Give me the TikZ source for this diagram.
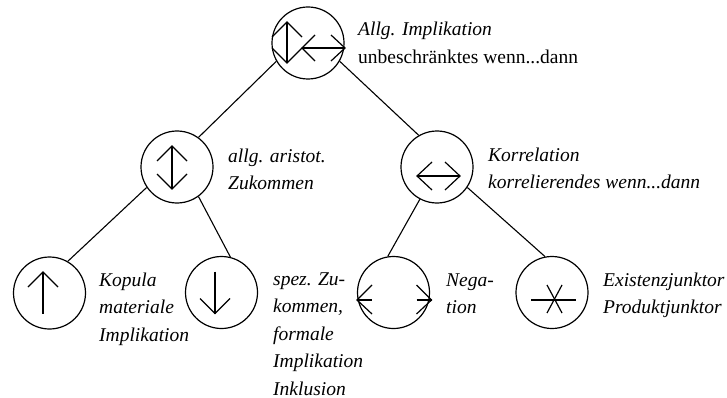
\documentclass[tikz,border=0pt]{standalone}
\usepackage{fontspec}
\setmainfont{Liberation Serif}
\tikzset{
    junktor/.style={draw, circle, minimum size=72pt, inner sep=0pt, line width=1.2pt},
    sym/.style={line width=1.2pt},
    erkl/.style={anchor=base west, align=left, inner sep=0pt, font=\fontsize{19.5}{27.5}\selectfont\itshape},
    kante/.style={line width=1.1pt}
}
\begin{document}
\begin{tikzpicture}[x=1pt,y=-1pt]
        \useasboundingbox (0,0) rectangle (727,398);

        % Kreise
        \node[junktor] (allg) at (308,43) {};
        \node[junktor] (arist) at (177,167) {};
        \node[junktor] (korr) at (437,167) {};
        \node[junktor] (kopula) at (49.5,293) {};
        \node[junktor] (spez) at (221.5,292.5) {};
        \node[junktor] (neg) at (393.5,292.5) {};
        \node[junktor] (exist) at (552,292.5) {};

        % Zeichen in den Kreisen
        \begin{scope}[shift={(allg)}, sym]
            \draw (-21,-21) -- (-21,20);
            \draw (-36,-6) -- (-21,-21) -- (-6,-6);
            \draw (-36,5) -- (-21,20) -- (-6,5);
            \draw (-6,5) -- (37,5);
            \draw (7,-8) -- (-6,5) -- (7,18);
            \draw (23,-8) -- (37,5) -- (23,18);
        \end{scope}
        \begin{scope}[shift={(arist)}, sym]
            \draw (-5,-21) -- (-5,22);
            \draw (-20,-6) -- (-5,-21) -- (10,-6);
            \draw (-20,7) -- (-5,22) -- (10,7);
        \end{scope}
        \begin{scope}[shift={(korr)}, sym]
            \draw (-20,9) -- (23,9);
            \draw (-5,-5) -- (-20,9) -- (-5,23);
            \draw (8,-5) -- (23,9) -- (8,23);
        \end{scope}
        \begin{scope}[shift={(kopula)}, sym]
            \draw (-6.5,-21) -- (-6.5,21);
            \draw (-21.5,-6) -- (-6.5,-21) -- (8.5,-6);
        \end{scope}
        \begin{scope}[shift={(spez)}, sym]
            \draw (-6.5,-21) -- (-6.5,21);
            \draw (-21.5,6) -- (-6.5,21) -- (8.5,6);
        \end{scope}
        \begin{scope}[shift={(neg)}, sym]
            \draw (-36.5,7.5) -- (-21.5,7.5);
            \draw (-21.5,-7.5) -- (-36.5,7.5) -- (-21.5,21.5);
            \draw (23,7.5) -- (38,7.5);
            \draw (23,-7.5) -- (38,7.5) -- (23,21.5);
        \end{scope}
        \begin{scope}[shift={(exist)}, sym]
            \draw (-21,7.5) -- (24,7.5);
            \draw (-5,-7.5) -- (10,20.5);
            \draw (10,-7.5) -- (-5,20.5);
        \end{scope}

        % Verbindungen
        \draw[kante] (allg.210) -- (arist.54);
        \draw[kante] (allg.-30) -- (korr.120);
        \draw[kante] (arist.214) -- (kopula.60);
        \draw[kante] (arist.-54) -- (spez.76);
        \draw[kante] (korr.242) -- (neg.99);
        \draw[kante] (korr.-34) -- (exist.101);

        % Beschriftungen (Anker = Grundlinie der letzten Zeile)
        \node[erkl] (allgT) at (358,63.5) {Allg. Implikation\\\upshape unbeschränktes wenn...dann};
        \node[erkl] (aristT) at (228,189.5) {allg. aristot.\\Zukommen};
        \node[erkl] (korrT) at (488,188.5) {Korrelation\\korrelierendes wenn...dann};
        \node[erkl] (kopulaT) at (99,341) {Kopula\\materiale\\Implikation};
        \node[erkl] (spezT) at (273,395) {spez. Zu-\\kommen,\\formale\\Implikation\\Inklusion};
        \node[erkl] (negT) at (446,313.5) {Nega-\\tion};
        \node[erkl] (existT) at (603,313.5) {Existenzjunktor\\Produktjunktor};
\end{tikzpicture}
\end{document}
